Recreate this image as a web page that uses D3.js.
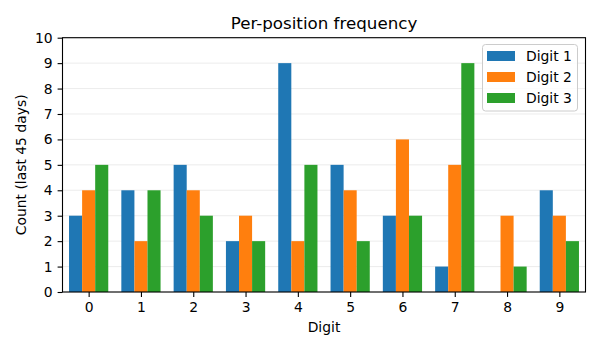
<!DOCTYPE html>
<html><head><meta charset="utf-8">
<script src="https://cdn.jsdelivr.net/npm/d3@7"></script>
<style>body{margin:0;background:#fff}svg{display:block;font-family:"DejaVu Sans",sans-serif}</style>
</head><body><svg id="c" width="600" height="350"></svg>
<script>
const digits = [0,1,2,3,4,5,6,7,8,9];
const seriesNames = ["Digit 1","Digit 2","Digit 3"];
const digit1 = [3,4,5,2,9,5,3,1,0,4];
const digit2 = [4,2,4,3,2,4,6,5,3,3];
const digit3 = [5,4,3,2,5,2,3,9,1,2];
const colors = ["#1f77b4","#ff7f0e","#2ca02c"];
const yTicks = [0,1,2,3,4,5,6,7,8,9,10];
const series = [digit1,digit2,digit3];

const svg = d3.select("#c");
const L=62.5,R=585.5,T=37.7,B=292;
const x = d3.scaleLinear().domain([-0.5,9.5]).range([L,R]);
const y = d3.scaleLinear().domain([0,10]).range([B,T]);
const bw = 0.25;

// grid
svg.append("g").selectAll("line").data(yTicks).join("line")
  .attr("x1",L).attr("x2",R).attr("y1",d=>y(d)).attr("y2",d=>y(d))
  .attr("stroke","#b0b0b0").attr("stroke-opacity",0.3).attr("stroke-width",0.8);

// bars
series.forEach((s,i)=>{
  svg.append("g").selectAll("rect").data(digits).join("rect")
    .attr("x",d=>x(d+(i-1)*bw-bw/2)).attr("width",d=>x(bw)-x(0))
    .attr("y",d=>y(s[d])).attr("height",d=>y(0)-y(s[d]))
    .attr("fill",colors[i]);
});

// axes
const xa = svg.append("g").attr("transform",`translate(0,${B})`)
  .call(d3.axisBottom(x).tickValues(digits).tickFormat(d3.format("d")).tickSize(4.9).tickPadding(4.9));
const ya = svg.append("g").attr("transform",`translate(${L},0)`)
  .call(d3.axisLeft(y).tickValues(yTicks).tickFormat(d3.format("d")).tickSize(4.9).tickPadding(4.9));
[xa,ya].forEach(a=>{
  a.select(".domain").remove();
  a.selectAll("text").attr("font-size",13.9).attr("font-family","DejaVu Sans").attr("fill","#000");
  a.selectAll("line").attr("stroke","#000").attr("stroke-width",1.1);
});
// frame
svg.append("rect").attr("x",L).attr("y",T).attr("width",R-L).attr("height",B-T)
  .attr("fill","none").attr("stroke","#000").attr("stroke-width",1.1);

// title & labels
svg.append("text").attr("x",(L+R)/2).attr("y",29).attr("text-anchor","middle")
  .attr("font-size",16.7).text("Per-position frequency");
svg.append("text").attr("x",(L+R)/2).attr("y",332).attr("text-anchor","middle")
  .attr("font-size",13.9).text("Digit");
svg.append("text").attr("transform",`translate(26,${(T+B)/2}) rotate(-90)`).attr("text-anchor","middle")
  .attr("font-size",13.9).text("Count (last 45 days)");

// legend
const lg = svg.append("g");
lg.append("rect").attr("x",482.5).attr("y",44.5).attr("width",95).attr("height",66.5).attr("rx",3)
  .attr("fill","#fff").attr("fill-opacity",0.8).attr("stroke","#cccccc").attr("stroke-width",1);
seriesNames.forEach((n,i)=>{
  const cy = 56+i*21;
  lg.append("rect").attr("x",487).attr("y",cy-5).attr("width",28).attr("height",10).attr("fill",colors[i]);
  lg.append("text").attr("x",526).attr("y",cy+5).attr("font-size",13.9).text(n);
});
</script></body></html>
